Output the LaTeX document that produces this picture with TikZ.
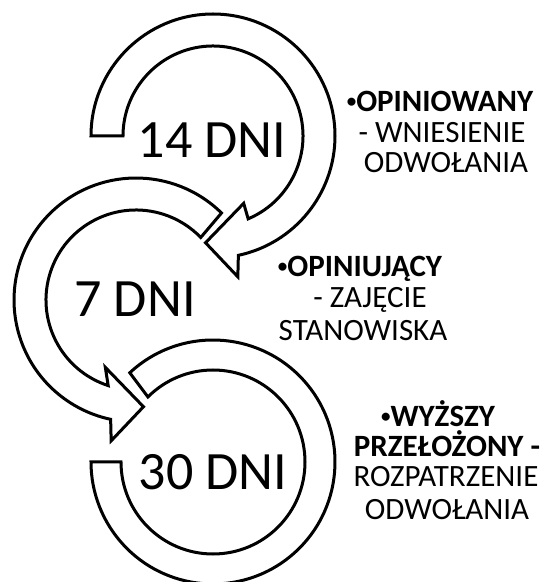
\documentclass[tikz,border=0pt]{standalone}
\usepackage{fontspec}
\setmainfont{Carlito}
% small raised bullet placed before the bold headings
\newcommand{\smallbullet}{\raisebox{4pt}{\fontsize{19}{19}\selectfont •}}
\begin{document}
\begin{tikzpicture}[x=1pt,y=1pt,
  ring/.style={draw=black, fill=white, line width=3pt, line join=miter},
  big/.style={inner sep=0pt, anchor=base, font=\fontsize{54}{54}\selectfont},
  note/.style={inner sep=0pt, anchor=base, font=\fontsize{31}{31}\selectfont},
  notebold/.style={note, font=\fontsize{31}{31}\selectfont\bfseries}]
\useasboundingbox (0,0) rectangle (543,582);

\coordinate (c1) at (213,446);
\coordinate (c2) at (136,282);
\coordinate (c3) at (213,120);

% third ring: plain band, both ends cut square
\begin{scope}[shift={(c3)}]
  \draw[ring] (133:122) arc[start angle=133, end angle=-180, radius=122]
    -- (-180:92) arc[start angle=-180, end angle=135, radius=92] -- cycle;
\end{scope}

% second ring: counter-clockwise band ending in an arrowhead
\begin{scope}[shift={(c2)}]
  \draw[ring] (45.5:122) arc[start angle=45.5, end angle=258, radius=122]
    -- (260:143) -- (274:107) -- (245.5:74) -- (252:90)
    arc[start angle=252, end angle=44, radius=90] -- cycle;
\end{scope}

% first ring: clockwise band ending in an arrowhead
\begin{scope}[shift={(c1)}]
  \draw[ring] (180:122) arc[start angle=180, end angle=-78, radius=122]
    -- (-80:143) -- (-94:107) -- (-65.5:74) -- (-67:90)
    arc[start angle=-67, end angle=180, radius=90] -- cycle;
\end{scope}

% day counts
\node[big] (d1) at (212,424.5) {14 DNI};
\node[big] (d2) at (135,265) {7 DNI};
\node[big] (d3) at (213,92.5) {30 DNI};

% descriptions
\node[notebold] (a1) at (440,470) {\smallbullet OPINIOWANY};
\node[note] (a2) at (442,439) {- WNIESIENIE};
\node[note] (a3) at (446,409) {ODWOŁANIA};

\node[notebold] (b1) at (360,305) {\smallbullet OPINIUJĄCY};
\node[note] (b2) at (370,274) {- ZAJĘCIE};
\node[note] (b3) at (363,241) {STANOWISKA};

\node[notebold] (e1) at (438,155) {\smallbullet WYŻSZY};
\node[notebold] (e2) at (447,125) {PRZEŁOŻONY -};
\node[note] (e3) at (446,95) {ROZPATRZENIE};
\node[note] (e4) at (447,62) {ODWOŁANIA};
\end{tikzpicture}
\end{document}
